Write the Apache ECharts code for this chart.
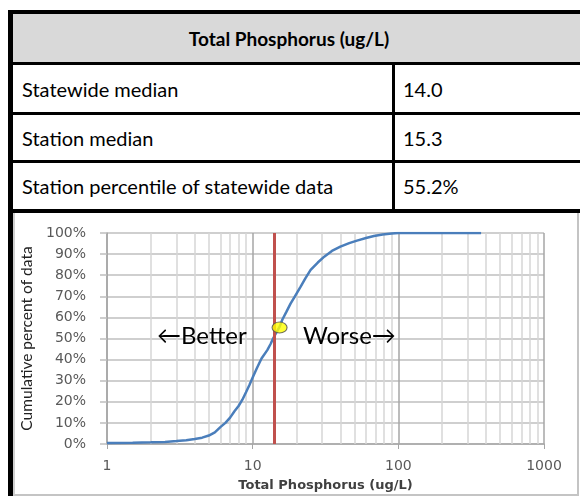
<!DOCTYPE html>
<html>
<head>
<meta charset="utf-8">
<script src="https://cdn.jsdelivr.net/npm/echarts@6/dist/echarts.min.js"></script>
<style>
  html, body { margin: 0; padding: 0; background: #fff; }
  body { width: 580px; height: 496px; position: relative; overflow: hidden; font-family: Lato, "Noto Sans", sans-serif; }
  .blk { position: absolute; background: #000; }
  .cell { position: absolute; font-size: 20px; color: #000; line-height: 1; display: flex; align-items: center; }
  #header { position: absolute; left: 13px; top: 14px; width: 567px; height: 48px; background: #d9d9d9;
            box-sizing: border-box; padding-right: 15px; display: flex; align-items: center; justify-content: center;
            font-weight: bold; font-size: 19px; }
  #frame { position: absolute; left: 13px; top: 213px; width: 566px; height: 283px; box-sizing: border-box;
           border-left: 2px solid #cfcfcf; border-right: 2px solid #c4c4c4; border-bottom: 2px solid #c4c4c4; }
  #chart { position: absolute; left: 15px; top: 213px; width: 562px; height: 281px; }
</style>
</head>
<body>
<div id="header"></div>
<div id="rows"></div>
<div id="frame"></div>
<div id="chart"></div>
<!-- black table rules -->
<div class="blk" style="left:8px;top:10px;width:5px;height:486px"></div>
<div class="blk" style="left:8px;top:10px;width:572px;height:4px"></div>
<div class="blk" style="left:13px;top:62px;width:567px;height:3px"></div>
<div class="blk" style="left:13px;top:112px;width:567px;height:3px"></div>
<div class="blk" style="left:13px;top:160px;width:567px;height:3px"></div>
<div class="blk" style="left:13px;top:209px;width:567px;height:4px"></div>
<div class="blk" style="left:392px;top:62px;width:3px;height:150px"></div>
<script>
// table
const tableTitle = 'Total Phosphorus (ug/L)';
const rowLabels = ['Statewide median', 'Station median', 'Station percentile of statewide data'];
const rowValues = ['14.0', '15.3', '55.2%'];

// statewide cumulative distribution
const phosphorus = [1.0, 1.5, 2.0, 2.5, 3.0, 3.5, 4.0, 4.5, 5.0, 5.5, 6.0, 6.5, 7.0, 7.5, 8.0, 8.5, 9.0, 9.5,
  10.0, 10.7, 11.5, 12.6, 13.3, 13.8, 15.3, 16.0, 17.0, 18.2, 19.5, 21.3, 23.0, 25.0, 28.0, 31.0, 35.0,
  40.0, 46.0, 52.0, 60.0, 68.0, 78.0, 90.0, 100, 150, 250, 370];
const cumulativePct = [0.5, 0.6, 0.8, 1.0, 1.4, 1.8, 2.4, 3.0, 4.0, 5.5, 8.0, 10.0, 12.5, 15.5, 18.0, 21.0, 24.5, 28.0,
  31.5, 36.0, 40.5, 44.5, 47.5, 50.0, 55.5, 59.0, 62.5, 66.5, 70.0, 74.5, 78.5, 82.5, 86.0, 88.8, 91.5,
  93.5, 95.2, 96.4, 97.6, 98.6, 99.3, 99.8, 100, 100, 100, 100];

const statewideMedian = 14.0;
const stationMedian = 15.3;
const stationPercentile = 55.2;

// log gridlines between decades
const minorGrid = [2, 3, 4, 5, 6, 7, 8, 9, 20, 30, 40, 50, 60, 70, 80, 90, 200, 300, 400, 500, 600, 700, 800, 900];

document.getElementById('header').textContent = tableTitle;
const rowTops = [65, 115, 163];
const rowHeights = [47, 45, 46];
const rowsEl = document.getElementById('rows');
rowLabels.forEach((lab, i) => {
  const a = document.createElement('div');
  a.className = 'cell';
  a.style.cssText = `left:22px;top:${rowTops[i]}px;height:${rowHeights[i]}px`;
  a.textContent = lab;
  rowsEl.appendChild(a);
  const b = document.createElement('div');
  b.className = 'cell';
  b.style.cssText = `left:403px;top:${rowTops[i]}px;height:${rowHeights[i]}px`;
  b.textContent = rowValues[i];
  rowsEl.appendChild(b);
});

const chart = echarts.init(document.getElementById('chart'));
const tickFont = { fontFamily: 'DejaVu Sans', fontSize: 14, color: '#595959' };

chart.setOption({
  animation: false,
  grid: { left: 92, right: 33, top: 20, bottom: 50, containLabel: false, outerBoundsMode: 'none' },
  xAxis: {
    type: 'log',
    logBase: 10,
    min: 1,
    max: 1000,
    name: 'Total Phosphorus (ug/L)',
    nameLocation: 'middle',
    nameGap: 35,
    nameTextStyle: { fontFamily: 'DejaVu Sans', fontWeight: 'bold', fontSize: 13, color: '#404040' },
    axisLine: { show: true, lineStyle: { color: '#a6a6a6', width: 1.5 } },
    axisTick: { show: true, length: 5, lineStyle: { color: '#a6a6a6' } },
    axisLabel: { margin: 15, formatter: v => String(Math.round(v)), ...tickFont },
    splitLine: { show: true, lineStyle: { color: '#a6a6a6', width: 1.5 } }
  },
  yAxis: {
    type: 'value',
    min: 0,
    max: 100,
    interval: 10,
    name: 'Cumulative percent of data',
    nameLocation: 'middle',
    nameGap: 64,
    nameTextStyle: { fontFamily: 'Lato', fontSize: 15.5, color: '#222' },
    axisLine: { show: true, lineStyle: { color: '#a6a6a6', width: 1.5 } },
    axisTick: { show: true, length: 7, lineStyle: { color: '#bfbfbf', width: 1.5 } },
    axisLabel: { margin: 21, formatter: '{value}%', ...tickFont },
    splitLine: { lineStyle: { color: '#bfbfbf', width: 1.5 } }
  },
  series: [
    {
      // minor log gridlines
      type: 'line',
      data: [],
      silent: true,
      markLine: {
        silent: true,
        symbol: 'none',
        z: 1,
        label: { show: false },
        lineStyle: { color: '#d6d6d6', width: 1.5, type: 'solid' },
        data: minorGrid.map(v => ({ xAxis: v }))
      }
    },
    {
      name: 'Statewide',
      type: 'line',
      data: phosphorus.map((x, i) => [x, cumulativePct[i]]),
      showSymbol: false,
      lineStyle: { color: '#4a7ebb', width: 2.5 },
      z: 3
    },
    {
      name: 'Station',
      type: 'scatter',
      data: [[stationMedian, stationPercentile]],
      symbol: 'circle',
      symbolSize: [15, 11],
      itemStyle: { color: '#ffff00', borderColor: '#505050', borderWidth: 1 },
      z: 10,
      markLine: {
        silent: true,
        symbol: 'none',
        z: 4,
        label: { show: false },
        lineStyle: { color: '#c0504d', width: 3, type: 'solid' },
        data: [{ xAxis: statewideMedian }]
      }
    }
  ],
  graphic: [
    { type: 'text', z: 100, left: 142, top: 111, style: { text: '\u2190Better', font: '24px Lato', fill: '#000' } },
    { type: 'text', z: 100, left: 288, top: 111, style: { text: 'Worse\u2192', font: '24px Lato', fill: '#000' } }
  ]
});
</script>
</body>
</html>
